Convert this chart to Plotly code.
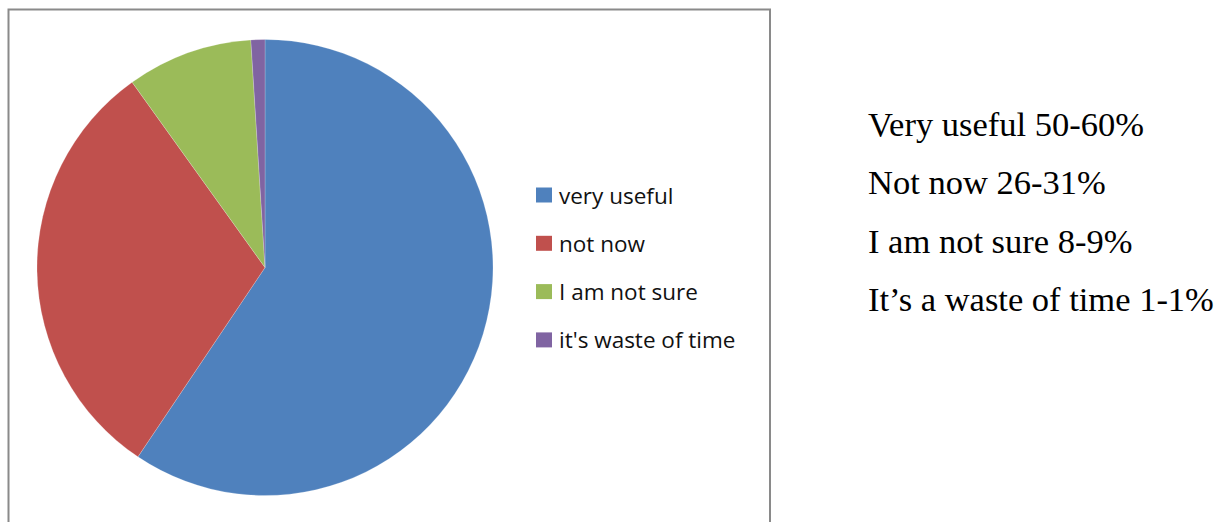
import plotly.graph_objects as go

# Survey responses
categories = ["very useful", "not now", "I am not sure", "it's waste of time"]
summary_names = ["Very useful", "Not now", "I am not sure", "It\u2019s a waste of time"]
counts = [50, 26, 8, 1]
percents = [60, 31, 9, 1]
colors = ["#4F81BD", "#C0504D", "#9BBB59", "#8064A2"]

W, H = 1222, 522

def px(x):
    return x / W

def py(y):
    return 1 - y / H

fig = go.Figure()
fig.add_trace(go.Pie(
    labels=categories,
    values=percents,
    sort=False,
    direction="clockwise",
    rotation=0,
    textinfo="none",
    hoverinfo="label+value",
    marker=dict(colors=colors, line=dict(color="rgba(255,255,255,0.4)", width=0.5)),
    domain=dict(x=[px(37), px(493)], y=[py(496), py(39)]),
    showlegend=False,
))

shapes = []
annotations = []

# chart frame (bottom edge runs off the page)
shapes.append(dict(type="rect", xref="paper", yref="paper",
                   x0=px(8.5), x1=px(770), y0=-0.1, y1=py(9.5),
                   line=dict(color="#8A8A8A", width=2), fillcolor="rgba(0,0,0,0)"))

# legend
for i, (lab, col) in enumerate(zip(categories, colors)):
    yc = 195 + i * 48.3
    shapes.append(dict(type="rect", xref="paper", yref="paper",
                       x0=px(536), x1=px(552), y0=py(yc + 7.5), y1=py(yc - 7.5),
                       line=dict(width=0), fillcolor=col))
    annotations.append(dict(text=lab, xref="paper", yref="paper",
                            x=px(557), y=py(yc), xanchor="left", yanchor="middle",
                            showarrow=False,
                            font=dict(family="Open Sans, Carlito, sans-serif", size=22.5, color="#111111")))

# summary text: name, count and share
for i, (name, n, pct) in enumerate(zip(summary_names, counts, percents)):
    yc = 124 + i * 58.3
    annotations.append(dict(text=f"{name} {n}-{pct}%", xref="paper", yref="paper",
                            x=px(866), y=py(yc), xanchor="left", yanchor="middle",
                            showarrow=False,
                            font=dict(family="Liberation Serif, Times New Roman, serif", size=34.5, color="#000000")))

fig.update_layout(
    width=W, height=H,
    margin=dict(l=0, r=0, t=0, b=0),
    paper_bgcolor="white", plot_bgcolor="white",
    shapes=shapes, annotations=annotations,
)

fig.write_html("out.html")
